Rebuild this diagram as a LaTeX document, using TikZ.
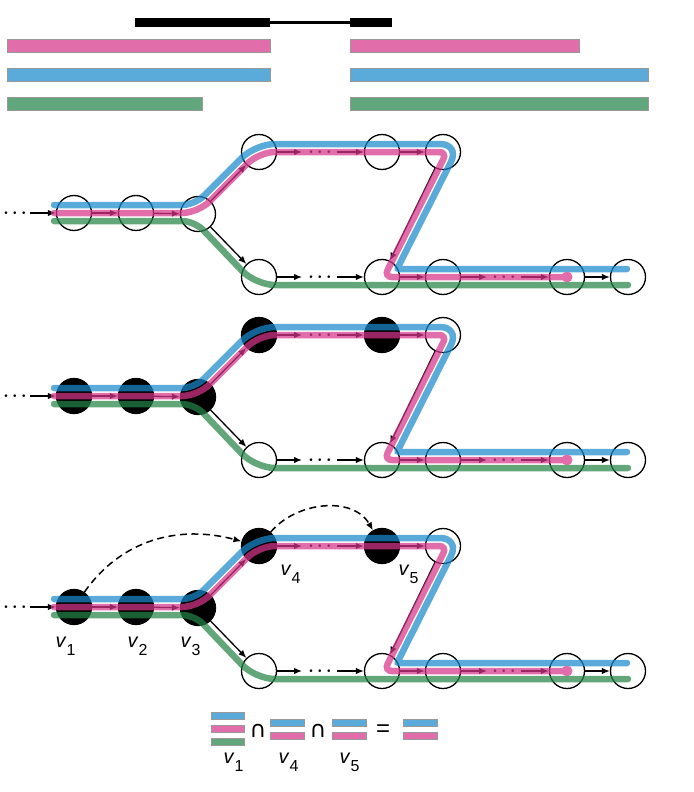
\documentclass[tikz,border=0pt]{standalone}
\usepackage{fontspec}
\setmainfont{Liberation Sans}
\newfontfamily\symfont{DejaVu Sans}
\usepackage{tikz}
\usetikzlibrary{arrows.meta,positioning}

\definecolor{trackpink}{RGB}{213,54,137}
\definecolor{trackblue}{RGB}{26,137,204}
\definecolor{trackgreen}{RGB}{37,131,71}

\newcommand{\vsub}[1]{\textit{v}\raisebox{-8bp}{\fontsize{16}{16}\selectfont #1}}

\begin{document}
\begin{tikzpicture}[x=1bp,y=1bp,->,>={Latex[length=8bp,width=6.5bp]},line width=1.3bp,
        main node/.style={circle,draw,minimum size=35bp,inner sep=0pt},
        hit1/.style={},hit2/.style={fill=black},hit3/.style={fill=black},
        track/.style={-,line width=6.5bp,line cap=round},
        hop/.style={dash pattern=on 7bp off 4.5bp,line width=1.5bp},
        dots/.style={inner sep=0pt,font=\fontsize{16}{16}\selectfont\boldmath},
        bar/.style={-,draw=black!40,line width=0.6bp},
        vlab/.style={inner sep=0pt,anchor=base west,font=\fontsize{20}{20}\selectfont}]

    \useasboundingbox (0,0) rectangle (694,-792);

    % reads on top
    \fill[black] (135,-18) rectangle (270,-27);
    \fill[black] (350,-18) rectangle (392,-27);
    \draw[-,line width=2.5bp] (270,-22.5) -- (350,-22.5);
    \filldraw[bar,fill=trackpink!72] (7,-39) rectangle (270,-52);
    \filldraw[bar,fill=trackpink!72] (350,-39) rectangle (579,-52);
    \filldraw[bar,fill=trackblue!72] (7,-68) rectangle (270,-81);
    \filldraw[bar,fill=trackblue!72] (350,-68) rectangle (648,-81);
    \filldraw[bar,fill=trackgreen!72] (7,-97) rectangle (202,-110);
    \filldraw[bar,fill=trackgreen!72] (350,-97) rectangle (648,-110);

    \foreach \p/\dy in {1/0,2/-183,3/-394} {
    \begin{scope}[shift={(0,\dy)}]
    \node[main node,hit\p] (1-\p) at (74,-213) {};
    \node[main node,hit\p] (2-\p) at (136,-213) {};
    \node[main node,hit\p] (3-\p) at (198,-214) {};
    \node[main node,hit\p] (4-\p) at (259,-152) {};
    \node[main node,hit\p] (5-\p) at (382,-152) {};
    \node[main node] (6-\p) at (443,-152) {};
    \node[main node] (7-\p) at (259,-277) {};
    \node[main node] (8-\p) at (382,-277) {};
    \node[main node] (9-\p) at (443,-277) {};
    \node[main node] (10-\p) at (567,-277) {};
    \node[main node] (11-\p) at (628,-277) {};

    \coordinate (in-\p) at (30,-213);
    \coordinate (c1-\p) at (302,-152);
    \coordinate (c2-\p) at (337,-152);
    \coordinate (c3-\p) at (302,-277);
    \coordinate (c4-\p) at (337,-277);
    \coordinate (c5-\p) at (487,-277);
    \coordinate (c6-\p) at (521,-277);

    \node[dots] (d0-\p) at (15,-213) {$\cdots$};
    \node[dots] (d1-\p) at (320,-152) {$\cdots$};
    \node[dots] (d2-\p) at (320,-277) {$\cdots$};
    \node[dots] (d3-\p) at (504,-277) {$\cdots$};

    \path
    (in-\p) edge (1-\p)
    (1-\p) edge (2-\p)
    (2-\p) edge (3-\p)
    (3-\p) edge (4-\p)
    (3-\p) edge (7-\p)
    (4-\p) edge (c1-\p)
    (c2-\p) edge (5-\p)
    (5-\p) edge (6-\p)
    (6-\p) edge (8-\p)
    (7-\p) edge (c3-\p)
    (c4-\p) edge (8-\p)
    (8-\p) edge (9-\p)
    (9-\p) edge (c5-\p)
    (c6-\p) edge (10-\p)
    (10-\p) edge (11-\p);

    % the three transcripts
    \begin{scope}[transparency group,opacity=0.72]
    \draw[track,trackblue] (54,-205) [rounded corners=12.7bp] -- (194.7,-205)
        -- (225.2,-174.5) [rounded corners=19.3bp] -- (255.7,-144)
        -- (350,-144) [rounded corners=20bp] -- (460,-144)
        -- (428.5,-206.5) [rounded corners=2bp] -- (397,-269) -- (627,-269);
    \draw[track,trackpink] (54,-213) [rounded corners=16bp] -- (198,-213)
        -- (259,-152) -- (350,-152) [rounded corners=8bp] -- (447,-152)
        -- (384,-277) -- (567,-277);
    \fill[trackpink] (10-\p) circle[radius=5.5bp];
    \draw[track,trackgreen] (54,-221) [rounded corners=12.7bp] -- (194.6,-221)
        -- (225.1,-253) [rounded corners=19.3bp] -- (255.6,-285) -- (628,-285);
    \end{scope}
    \end{scope}
    }

    \draw[hop] (1-3) to[out=55,in=165] (4-3);
    \draw[hop] (4-3) to[out=50,in=120] (5-3);

    \node[vlab] (v1) at (55,-647) {\vsub{1}};
    \node[vlab] (v2) at (127,-647) {\vsub{2}};
    \node[vlab] (v3) at (180,-647) {\vsub{3}};
    \node[vlab] (v4) at (280,-575) {\vsub{4}};
    \node[vlab] (v5) at (398,-575) {\vsub{5}};

    % intersection
    \filldraw[bar,fill=trackblue!72] (211,-712) rectangle (244,-719);
    \filldraw[bar,fill=trackpink!72] (211,-725) rectangle (244,-732);
    \filldraw[bar,fill=trackgreen!72] (211,-738) rectangle (244,-745);
    \filldraw[bar,fill=trackblue!72] (270,-719) rectangle (304,-726);
    \filldraw[bar,fill=trackpink!72] (270,-732) rectangle (304,-739);
    \filldraw[bar,fill=trackblue!72] (332,-719) rectangle (366,-726);
    \filldraw[bar,fill=trackpink!72] (332,-732) rectangle (366,-739);
    \filldraw[bar,fill=trackblue!72] (403,-719) rectangle (437,-726);
    \filldraw[bar,fill=trackpink!72] (403,-732) rectangle (437,-739);

    \node[font=\symfont\fontsize{23}{23}\selectfont,inner sep=0pt] (cap1) at (258,-731) {∩};
    \node[font=\symfont\fontsize{23}{23}\selectfont,inner sep=0pt] (cap2) at (318,-731) {∩};
    \node[font=\fontsize{24}{24}\selectfont,inner sep=0pt] (eq) at (383,-731) {=};

    \node[vlab] (w1) at (223,-763) {\vsub{1}};
    \node[vlab] (w4) at (278,-763) {\vsub{4}};
    \node[vlab] (w5) at (339,-763) {\vsub{5}};

\end{tikzpicture}
\end{document}
